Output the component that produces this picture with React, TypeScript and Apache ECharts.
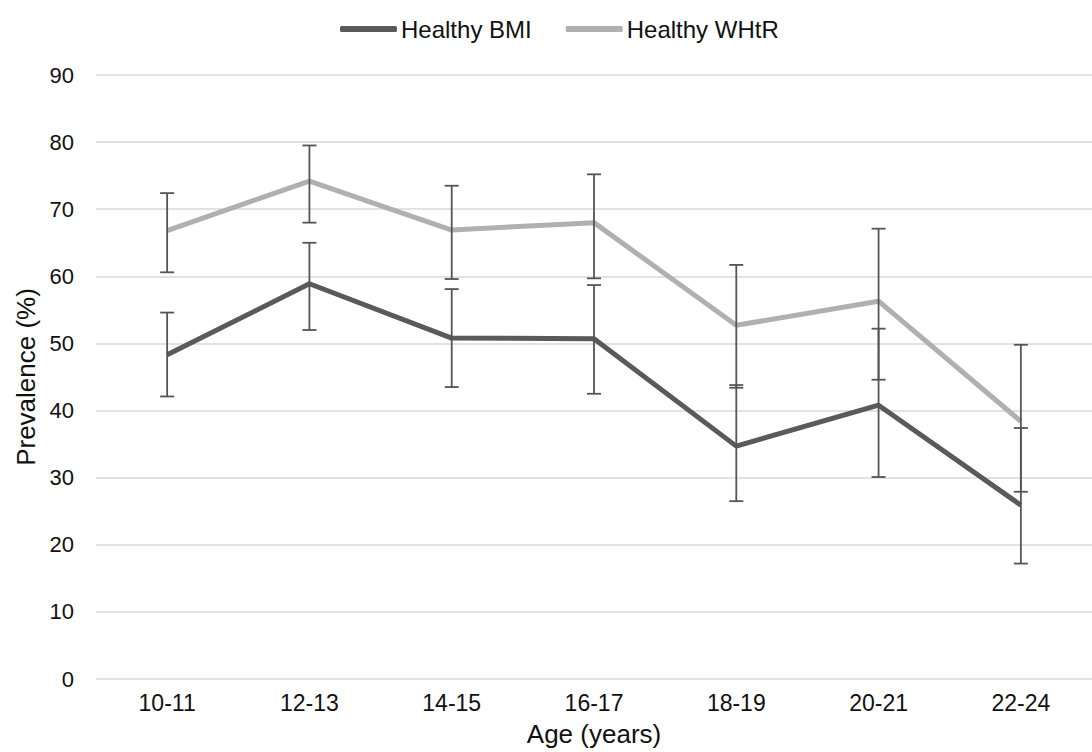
import React, { useEffect, useRef } from "react";
import * as echarts from "echarts";

const categories = ["10-11", "12-13", "14-15", "16-17", "18-19", "20-21", "22-24"];
const bmi = [48.3, 58.9, 50.8, 50.7, 34.7, 40.8, 25.9];
const bmiLow = [42.1, 52.0, 43.5, 42.5, 26.5, 30.1, 17.2];
const bmiHigh = [54.6, 65.0, 58.1, 58.7, 43.8, 52.2, 37.4];
const whtr = [66.8, 74.2, 66.9, 68.0, 52.7, 56.3, 38.4];
const whtrLow = [60.6, 68.0, 59.6, 59.7, 43.4, 44.6, 27.9];
const whtrHigh = [72.4, 79.5, 73.5, 75.2, 61.7, 67.1, 49.8];

const FONT = "'Liberation Sans', Arial, Helvetica, sans-serif";

function errorSeries(name: string, low: number[], high: number[]) {
  return {
    type: "custom",
    name: name + " error",
    z: 5,
    data: categories.map((_, i) => [i, low[i], high[i]]),
    encode: { x: 0, y: [1, 2] },
    renderItem: (params: any, api: any) => {
      const i = api.value(0);
      const lo = api.coord([i, api.value(1)]);
      const hi = api.coord([i, api.value(2)]);
      const hw = 7;
      const style = { stroke: "#555555", lineWidth: 1.8 };
      return {
        type: "group",
        children: [
          { type: "line", shape: { x1: lo[0], y1: lo[1], x2: hi[0], y2: hi[1] }, style },
          { type: "line", shape: { x1: lo[0] - hw, y1: lo[1], x2: lo[0] + hw, y2: lo[1] }, style },
          { type: "line", shape: { x1: hi[0] - hw, y1: hi[1], x2: hi[0] + hw, y2: hi[1] }, style },
        ],
      };
    },
  };
}

export default function App() {
  const ref = useRef<HTMLDivElement>(null);
  useEffect(() => {
    if (!ref.current) return;
    const chart = echarts.init(ref.current, undefined, { renderer: "svg" });
    chart.setOption({
      animation: false,
      textStyle: { fontFamily: FONT },
      legend: {
        data: ["Healthy BMI", "Healthy WHtR"],
        top: 12,
        left: 335,
        icon: "roundRect",
        itemWidth: 57,
        itemHeight: 6,
        itemGap: 34,
        textStyle: { fontSize: 24, color: "#111", fontFamily: FONT, padding: [0, 0, 0, -1] },
      },
      grid: { left: 96, right: -12, top: 75, bottom: 71, containLabel: false },
      xAxis: {
        type: "category",
        data: categories,
        boundaryGap: true,
        name: "Age (years)",
        nameLocation: "middle",
        nameGap: 42,
        nameTextStyle: { fontSize: 26, color: "#111", fontFamily: FONT },
        axisLine: { show: false },
        axisTick: { show: false },
        axisLabel: { fontSize: 23, color: "#111", margin: 12, fontFamily: FONT },
      },
      yAxis: {
        type: "value",
        min: 0,
        max: 90,
        interval: 10,
        name: "Prevalence (%)",
        nameLocation: "middle",
        nameGap: 56,
        nameTextStyle: { fontSize: 26, color: "#111", fontFamily: FONT },
        axisLine: { show: false },
        axisTick: { show: false },
        axisLabel: { fontSize: 22, color: "#111", margin: 22, fontFamily: FONT },
        splitLine: { lineStyle: { color: "#d9d9d9", width: 1.5 } },
      },
      series: [
        {
          type: "line",
          name: "Healthy BMI",
          data: bmi,
          showSymbol: false,
          symbol: "none",
          lineStyle: { color: "#5a5a5a", width: 5 },
          itemStyle: { color: "#5a5a5a" },
          z: 3,
        },
        {
          type: "line",
          name: "Healthy WHtR",
          data: whtr,
          showSymbol: false,
          symbol: "none",
          lineStyle: { color: "#b0b0b0", width: 5 },
          itemStyle: { color: "#b0b0b0" },
          z: 2,
        },
        errorSeries("Healthy BMI", bmiLow, bmiHigh),
        errorSeries("Healthy WHtR", whtrLow, whtrHigh),
      ],
    });
    return () => chart.dispose();
  }, []);
  return (
    <div
      ref={ref}
      style={{ position: "fixed", left: 0, top: 0, width: 1092, height: 752, background: "#fff" }}
    />
  );
}
